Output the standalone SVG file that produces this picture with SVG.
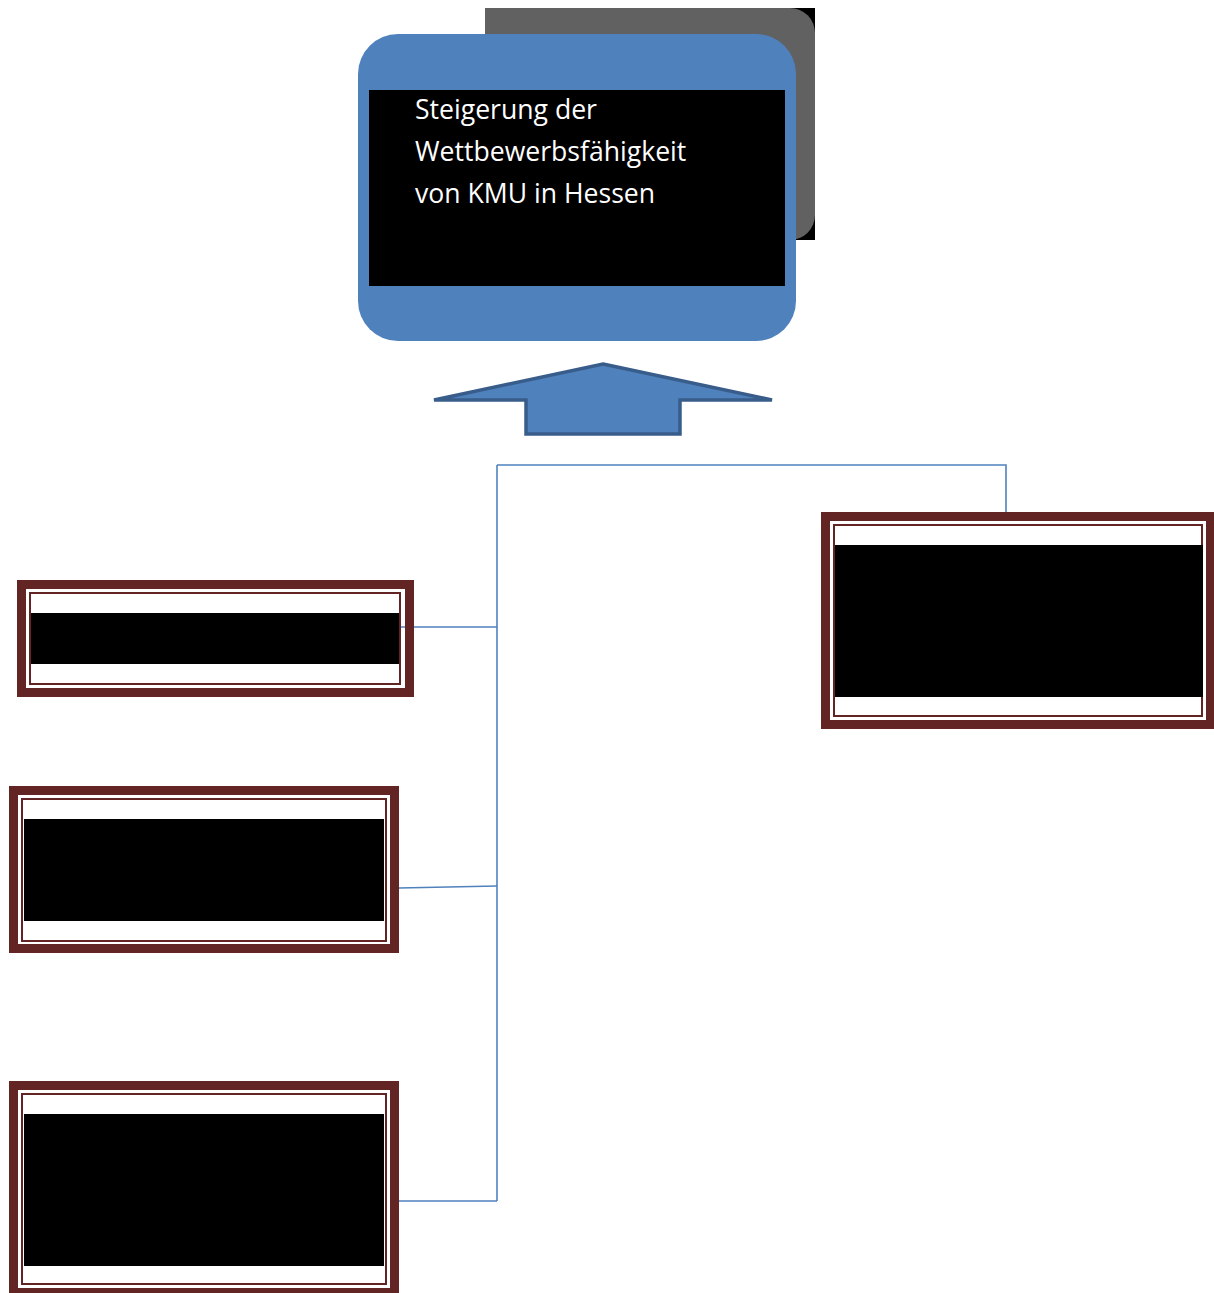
<svg xmlns="http://www.w3.org/2000/svg" width="1214" height="1293" viewBox="0 0 1214 1293">
<style>
.outer{fill:none;stroke:#632523;stroke-width:9}
.thin{fill:#fff;stroke:#632523;stroke-width:2}
.band{fill:#000}
.conn{fill:none;stroke:#4F81BD;stroke-width:1.6}
.title{font-family:"Open Sans","Liberation Sans",sans-serif;font-size:26.6px;fill:#fff}
</style>
<rect width="1214" height="1293" fill="#fff"/>
<g id="goal">
  <rect x="485" y="8" width="330" height="232" fill="#000"/>
  <path d="M485 8 H790 A25 25 0 0 1 815 33 V215 A25 25 0 0 1 790 240 H485 Z" fill="#616161"/>
  <rect x="358" y="34" width="438" height="307" rx="40" ry="40" fill="#4F81BD"/>
  <rect x="369" y="90" width="416" height="196" fill="#000"/>
  <text class="title" x="415" y="119">Steigerung der</text>
  <text class="title" x="415" y="161">Wettbewerbsfähigkeit</text>
  <text class="title" x="415" y="203">von KMU in Hessen</text>
</g>
<g id="arrow">
  <polygon points="603,364 772,400 680,400 680,434 526,434 526,400 434,400" fill="#4F81BD" stroke="#385D8A" stroke-width="3.5" stroke-linejoin="miter"/>
</g>
<g id="connectors">
  <path class="conn" d="M497 465 V1201"/>
  <path class="conn" d="M497 465 H1006 V513"/>
  <path class="conn" d="M399 627 H497"/>
  <path class="conn" d="M399 888 L497 886"/>
  <path class="conn" d="M399 1201 H497"/>
</g>
<g id="box1">
  <rect class="outer" x="21.5" y="584.5" width="388" height="108"/>
  <rect class="thin" x="30" y="593" width="370" height="91"/>
  <rect class="band" x="31" y="613" width="368" height="51"/>
</g>
<g id="box-right">
  <rect class="outer" x="825.5" y="516.5" width="385" height="208"/>
  <rect class="thin" x="834" y="525" width="368" height="191"/>
  <rect class="band" x="835" y="545" width="368" height="152"/>
</g>
<g id="box2">
  <rect class="outer" x="13.5" y="790.5" width="381" height="158"/>
  <rect class="thin" x="22" y="799" width="364" height="142"/>
  <rect class="band" x="24" y="819" width="360" height="102"/>
</g>
<g id="box3">
  <rect class="outer" x="13.5" y="1085.5" width="381" height="207"/>
  <rect class="thin" x="22" y="1094" width="364" height="190"/>
  <rect class="band" x="24" y="1114" width="360" height="152"/>
</g>
</svg>
